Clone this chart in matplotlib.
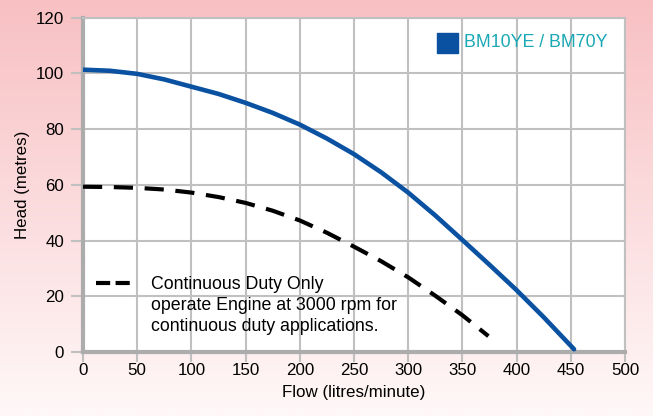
import numpy as np
import matplotlib
matplotlib.use("Agg")
import matplotlib.pyplot as plt
from matplotlib.lines import Line2D
from matplotlib.patches import Rectangle

plt.rcParams['font.family'] = ['Liberation Sans', 'DejaVu Sans']

# data
flow_max = [0, 25, 50, 75, 100, 125, 150, 175, 200, 225, 250, 275, 300, 325, 350, 375, 400, 425, 453]
head_max = [101.3, 100.9, 99.8, 97.8, 95.2, 92.6, 89.4, 85.8, 81.6, 76.6, 71, 64.5, 57.2, 49, 40.2, 31.3, 22.2, 12.5, 1]
flow_cont = [0, 25, 50, 75, 100, 125, 150, 175, 200, 225, 250, 275, 300, 325, 350, 374]
head_cont = [59.3, 59.2, 58.9, 58.3, 57.2, 55.6, 53.5, 50.7, 47.2, 42.8, 37.8, 32.6, 26.8, 20.2, 13.2, 5.7]
x_ticks = [0, 50, 100, 150, 200, 250, 300, 350, 400, 450, 500]
y_ticks = [0, 20, 40, 60, 80, 100, 120]

fig = plt.figure(figsize=(6.53, 4.16), dpi=100)

# pink-to-white background
bg = fig.add_axes([0, 0, 1, 1], zorder=-10)
top = np.array([248, 192, 195]) / 255
bot = np.array([255, 248, 248]) / 255
t = np.linspace(0, 1, 256)[:, None]
grad = (top * (1 - t) + bot * t)[:, None, :]
bg.imshow(grad, aspect='auto', extent=[0, 1, 0, 1])
bg.axis('off')

ax = fig.add_axes([0.1271, 0.1538, 0.830, 0.804])
ax.set_facecolor('white')
ax.plot(flow_max, head_max, color='#0a52a1', lw=3.3, solid_capstyle='round',
        solid_joinstyle='round', zorder=3)
ax.plot(flow_cont, head_cont, color='black', lw=3.0, dashes=(4.6, 2.8),
        dash_capstyle='butt', zorder=3)

ax.set_xlim(0, 500)
ax.set_ylim(0, 120)
ax.set_xticks(x_ticks)
ax.set_yticks(y_ticks)
ax.grid(True, color='#c0c0c0', lw=1.5)
ax.set_axisbelow(True)
for s in ['top', 'right']:
    ax.spines[s].set_color('#c0c0c0')
    ax.spines[s].set_linewidth(1.5)
for s in ['left', 'bottom']:
    ax.spines[s].set_color('#acacac')
    ax.spines[s].set_linewidth(3)
ax.tick_params(axis='y', direction='out', length=8.5, width=1.5, color='#c0c0c0',
               labelsize=12.2, pad=5)
ax.tick_params(axis='x', direction='out', length=7, width=1.5, color='#c0c0c0',
               labelsize=12.2, pad=1)
ax.set_xlabel('Flow (litres/minute)', fontsize=12.2, labelpad=5)
ax.set_ylabel('Head (metres)', fontsize=12.2, labelpad=4)

# legend entries
ax.add_patch(Rectangle((0.6526, 0.895), 0.0393, 0.0598, transform=ax.transAxes,
                       color='#0a52a1', clip_on=False, zorder=4))
ax.text(0.703, 0.925, 'BM10YE / BM70Y', transform=ax.transAxes, color='#1aa8b5',
        fontsize=12.8, va='center', ha='left')
ax.add_line(Line2D([0.024, 0.0886], [0.205, 0.205], transform=ax.transAxes,
                   color='black', lw=3.0, dashes=(3.4, 1.3)))
ax.text(0.125, 0.228, 'Continuous Duty Only\noperate Engine at 3000 rpm for\ncontinuous duty applications.',
        transform=ax.transAxes, fontsize=12.8, va='top', ha='left', linespacing=1.32)

fig.savefig('out.png', dpi=100)
